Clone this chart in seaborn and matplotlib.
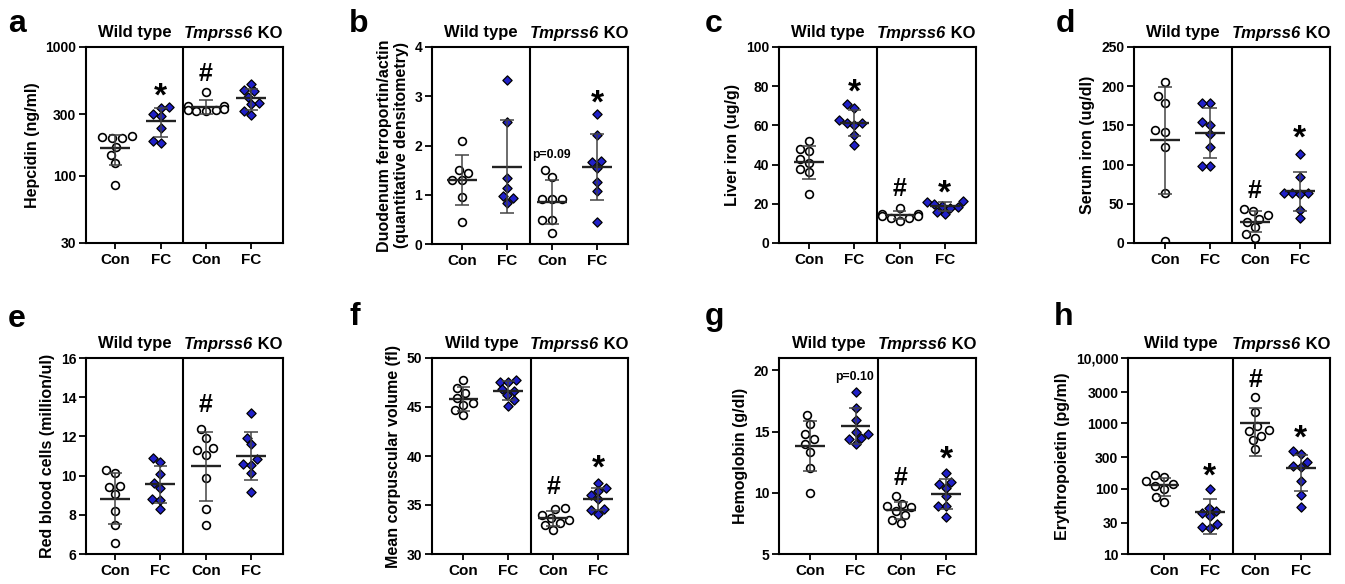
import numpy as np
import pandas as pd
import matplotlib
matplotlib.use("Agg")
import matplotlib.pyplot as plt
import matplotlib.transforms as mtransforms
from matplotlib.offsetbox import TextArea, HPacker, AnchoredOffsetbox
import seaborn as sns

# --- Data ---
GROUPS = ["WT Con", "WT FC", "KO Con", "KO FC"]
TICK_LABELS = ["Con", "FC", "Con", "FC"]
TREATMENT = ["Con", "FC", "Con", "FC"]

# each list: WT Con, WT FC, KO Con, KO FC
hepcidin = [
    [200, 195, 205, 198, 167, 145, 125, 85],
    [340, 335, 300, 290, 235, 185, 178],
    [447, 350, 345, 325, 322, 320, 318, 330],
    [520, 460, 455, 410, 365, 360, 320, 298],
]
ferroportin = [
    [2.10, 1.50, 1.45, 1.30, 1.30, 0.95, 0.45],
    [3.32, 2.47, 1.34, 1.14, 0.97, 0.93, 0.83],
    [1.51, 1.37, 0.91, 0.91, 0.91, 0.49, 0.49, 0.22],
    [2.64, 2.22, 1.66, 1.68, 1.54, 1.25, 1.07, 0.44],
]
liver_iron = [
    [52, 48, 47, 43, 41, 38, 36, 25],
    [71, 69, 63, 61, 61, 60, 55, 50],
    [18, 15, 15, 14, 14, 13, 13, 11],
    [21.5, 21, 20, 19, 18.5, 18, 16, 15],
]
serum_iron = [
    [205, 187, 179, 144, 142, 123, 64, 3],
    [179, 179, 150, 154, 139, 122, 98, 98],
    [43, 41, 36, 31, 27, 20, 12, 7],
    [113, 84, 64, 64, 64, 63, 42, 32],
]
rbc = [
    [10.28, 10.11, 9.43, 9.48, 9.05, 8.18, 7.5, 6.58],
    [10.9, 10.7, 10.1, 9.6, 9.35, 8.8, 8.75, 8.3],
    [12.37, 11.94, 11.3, 11.4, 11.05, 9.9, 8.29, 7.5],
    [13.18, 11.6, 11.94, 10.83, 10.57, 10.54, 10.11, 9.14],
]
mcv = [
    [47.8, 46.9, 46.4, 45.9, 45.4, 45.2, 44.7, 44.2],
    [47.8, 47.6, 47.5, 46.8, 46.6, 46.2, 45.7, 45.1],
    [34.7, 34.6, 34.0, 33.7, 33.5, 33.2, 33.0, 32.5],
    [37.2, 36.7, 36.4, 36.0, 35.6, 34.1, 34.6, 34.5],
]
hemoglobin = [
    [16.38, 15.65, 14.83, 14.42, 14.0, 13.33, 12.02, 10.0],
    [18.2, 16.9, 15.9, 15.0, 14.8, 14.5, 14.4, 14.0],
    [9.7, 9.1, 8.9, 8.8, 8.5, 8.2, 7.8, 7.5],
    [11.64, 10.88, 10.69, 10.39, 9.74, 8.92, 8.92, 8.02],
]
epo = [
    [164, 149, 130, 118, 109, 100, 74, 62],
    [99, 51, 45, 42, 38, 29, 26, 25],
    [2500, 1500, 900, 800, 750, 650, 550, 400],
    [380, 340, 260, 220, 215, 130, 80, 52],
]

# significance marks: (group index, y value, text)
marks_a = [(1, 495, "*"), (2, 640, "#")]
marks_b = [(3, 3.07, "*"), (2, 1.81, "p=0.09")]
marks_c = [(1, 82, "*"), (2, 28.8, "#"), (3, 30.8, "*")]
marks_d = [(2, 69, "#"), (3, 146, "*")]
marks_e = [(2, 13.7, "#")]
marks_f = [(2, 37.0, "#"), (3, 39.8, "*")]
marks_g = [(1, 19.46, "p=0.10"), (2, 11.4, "#"), (3, 13.6, "*")]
marks_h = [(1, 220, "*"), (2, 4940, "#"), (3, 849, "*")]

PANELS = [
    ("a", hepcidin, "Hepcidin (ng/ml)", "log", (30, 1000),
     [30, 100, 300, 1000], ["30", "100", "300", "1000"], marks_a),
    ("b", ferroportin, "Duodenum ferroportin/actin\n(quantitative densitometry)", "linear", (0, 4),
     [0, 1, 2, 3, 4], ["0", "1", "2", "3", "4"], marks_b),
    ("c", liver_iron, "Liver iron (ug/g)", "linear", (0, 100),
     [0, 20, 40, 60, 80, 100], ["0", "20", "40", "60", "80", "100"], marks_c),
    ("d", serum_iron, "Serum iron (ug/dl)", "linear", (0, 250),
     [0, 50, 100, 150, 200, 250], ["0", "50", "100", "150", "200", "250"], marks_d),
    ("e", rbc, "Red blood cells (million/ul)", "linear", (6, 16),
     [6, 8, 10, 12, 14, 16], ["6", "8", "10", "12", "14", "16"], marks_e),
    ("f", mcv, "Mean corpuscular volume (fl)", "linear", (30, 50),
     [30, 35, 40, 45, 50], ["30", "35", "40", "45", "50"], marks_f),
    ("g", hemoglobin, "Hemoglobin (g/dl)", "linear", (5, 21),
     [5, 10, 15, 20], ["5", "10", "15", "20"], marks_g),
    ("h", epo, "Erythropoietin (pg/ml)", "log", (10, 10000),
     [10, 30, 100, 300, 1000, 3000, 10000], ["10", "30", "100", "300", "1000", "3000", "10,000"], marks_h),
]

# --- Layout (pixel boxes: left, top, right, bottom) ---
W, H = 1345, 584
AXES_PX = [(86, 47, 283, 243), (432, 47, 628, 244), (779, 47, 976, 243), (1134, 47, 1330, 243),
           (86, 358, 283, 554), (432, 358, 628, 554), (779, 358, 976, 554), (1128, 358, 1330, 554)]
XLIMS = [(-0.65, 3.7), (-0.67, 3.69), (-0.67, 3.69), (-0.69, 3.67),
         (-0.64, 3.7), (-0.70, 3.67), (-0.69, 3.66), (-0.80, 3.64)]
LETTER_PX = [(8, 32), (349, 32), (705, 32), (1056, 32), (8, 327), (350, 325), (705, 325), (1054, 325)]

BLUE = "#2020c8"
MEAN_LINE = "#222222"
SD_LINE = "#444444"

sns.set_style("ticks")
plt.rcParams["font.family"] = ["Liberation Sans", "DejaVu Sans"]
plt.rcParams["font.weight"] = "bold"
plt.rcParams["axes.labelweight"] = "bold"
for key in ["text.color", "axes.labelcolor", "xtick.color", "ytick.color", "axes.edgecolor"]:
    plt.rcParams[key] = "black"

fig = plt.figure(figsize=(W / 100, H / 100), dpi=100)

for (letter, values, ylabel, scale, ylim, yticks, yticklabels, marks), box, xl, lp in zip(
        PANELS, AXES_PX, XLIMS, LETTER_PX):
    l, t, r, b = box
    ax = fig.add_axes([l / W, 1 - b / H, (r - l) / W, (b - t) / H])
    ax.set_yscale(scale)
    ax.set_ylim(*ylim)

    df = pd.DataFrame({
        "group": [g for g, v in zip(GROUPS, values) for _ in v],
        "treatment": [tr for tr, v in zip(TREATMENT, values) for _ in v],
        "value": [x for v in values for x in v],
    })

    sns.swarmplot(data=df[df["treatment"] == "Con"], x="group", y="value", order=GROUPS,
                  color="white", edgecolor="black", linewidth=1.2, size=5.6, marker="o",
                  ax=ax, zorder=2, warn_thresh=1)
    sns.swarmplot(data=df[df["treatment"] == "FC"], x="group", y="value", order=GROUPS,
                  color=BLUE, edgecolor="black", linewidth=0.9, size=4.7, marker="D",
                  ax=ax, zorder=2, warn_thresh=1)

    # mean +/- SD
    stats = df.groupby("group", sort=False)["value"].agg(["mean", "std"]).reindex(GROUPS)
    for i, (m, s) in enumerate(zip(stats["mean"], stats["std"])):
        ax.hlines(m, i - 0.33, i + 0.33, color=MEAN_LINE, lw=1.7, zorder=3)
        ax.vlines(i, m - s, m + s, color=SD_LINE, lw=1.1, zorder=3)
        ax.hlines([m - s, m + s], i - 0.15, i + 0.15, color=SD_LINE, lw=1.1, zorder=3)

    ax.set_xlim(*xl)
    ax.set_ylim(*ylim)
    ax.axvline(1.5, color="black", lw=1.5, zorder=4)
    ax.set_yticks(yticks, yticklabels)
    ax.yaxis.set_minor_locator(matplotlib.ticker.NullLocator())
    ax.set_xticks(range(4), TICK_LABELS)
    ax.tick_params(axis="x", labelsize=11, length=4, width=1.3, pad=3)
    ax.tick_params(axis="y", labelsize=10, length=5, width=1.3, pad=2)
    for lab in ax.get_xticklabels() + ax.get_yticklabels():
        lab.set_fontweight("bold")
    for sp in ax.spines.values():
        sp.set_visible(True)
        sp.set_linewidth(1.5)
        sp.set_color("black")
    ax.set_xlabel("")
    ax.set_ylabel(ylabel, fontsize=11.5, fontweight="bold", labelpad=4)

    # group headers
    tr = mtransforms.blended_transform_factory(ax.transData, ax.transAxes)
    ax.text((xl[0] + 1.5) / 2, 1.035, "Wild type", transform=tr, ha="center", va="bottom",
            fontsize=12, fontweight="bold")
    ko = HPacker(children=[
        TextArea("Tmprss6", textprops=dict(fontsize=12, fontweight="bold", fontstyle="italic")),
        TextArea(" KO", textprops=dict(fontsize=12, fontweight="bold")),
    ], pad=0, sep=0, align="baseline")
    ax.add_artist(AnchoredOffsetbox(loc="lower center", child=ko, pad=0, borderpad=0, frameon=False,
                                    bbox_to_anchor=((1.5 + xl[1]) / 2, 1.03), bbox_transform=tr))

    for gi, yv, sym in marks:
        if sym == "*":
            ax.annotate(sym, (gi, yv), xytext=(0, -14), textcoords="offset points",
                        ha="center", va="baseline", fontsize=24, fontweight="bold")
        elif sym == "#":
            ax.annotate(sym, (gi, yv), xytext=(0, -6.5), textcoords="offset points",
                        ha="center", va="baseline", fontsize=18, fontweight="bold")
        else:
            ax.text(gi - 0.02, yv, sym, ha="center", va="center", fontsize=8.8, fontweight="bold")

    fig.text(lp[0] / W, 1 - lp[1] / H, letter, ha="left", va="baseline",
             fontsize=23, fontweight="bold")

fig.savefig("out.png", dpi=100)
